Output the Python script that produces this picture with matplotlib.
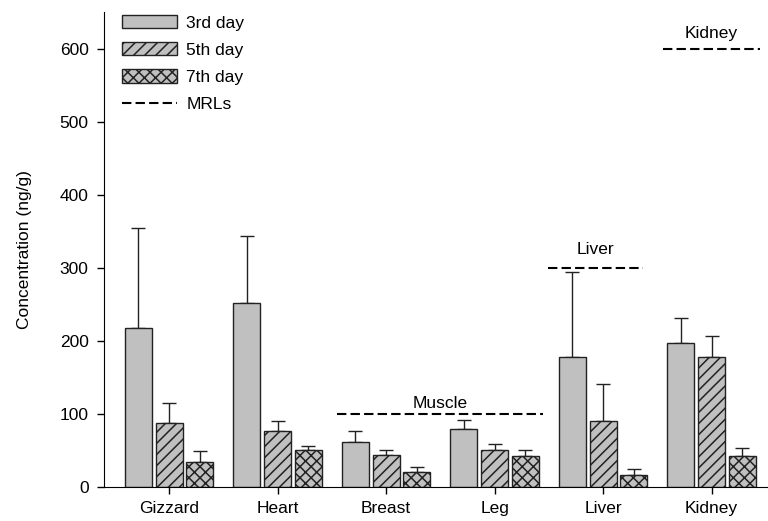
import matplotlib
matplotlib.use('Agg')
import matplotlib.pyplot as plt
import numpy as np

plt.rcParams['font.family'] = ['Liberation Sans', 'DejaVu Sans']
plt.rcParams['hatch.linewidth'] = 1.1

# data
tissues = ['Gizzard', 'Heart', 'Breast', 'Leg', 'Liver', 'Kidney']
days = ['3rd day', '5th day', '7th day']
mean_d3 = [217, 252, 61, 80, 178, 197]
sd_d3 = [138, 92, 16, 11, 116, 34]
mean_d5 = [87, 77, 44, 51, 90, 178]
sd_d5 = [28, 13, 7, 8, 51, 28]
mean_d7 = [34, 50, 21, 42, 16, 43]
sd_d7 = [15, 6, 6, 9, 8, 10]

# maximum residue limits and the tissue groups they cover
mrl_names = ['Muscle', 'Liver', 'Kidney']
mrl_values = [100, 300, 600]
mrl_groups = [(2, 3), (4, 4), (5, 5)]

means = [mean_d3, mean_d5, mean_d7]
sds = [sd_d3, sd_d5, sd_d7]
hatches = ['', '///', 'xxx']
edge = '#222222'
fill = '#c0c0c0'
fs = 12.5

fig = plt.figure(figsize=(7.68, 5.21), dpi=100)
ax = fig.add_axes([0.1354, 0.0653, 0.8646, 0.9117])

x = np.arange(len(tissues))
offsets = [-0.283, 0, 0.283]
width = 0.25
for k in range(3):
    ax.bar(x + offsets[k], means[k], width, color=fill, edgecolor=edge,
           linewidth=1, hatch=hatches[k], label=days[k], zorder=2)
    ax.errorbar(x + offsets[k], means[k],
                yerr=[np.zeros(len(tissues)), sds[k]], fmt='none',
                ecolor=edge, elinewidth=1, capsize=5, capthick=1, zorder=1)

# MRL lines with their labels
label_pad = [14, 25, 20]
for j in range(len(mrl_names)):
    g0, g1 = mrl_groups[j]
    x0 = g0 - 0.45
    x1 = g1 + 0.45
    if mrl_names[j] == 'Liver':
        x0, x1 = x0 - 0.06, x1 - 0.08
    ax.hlines(mrl_values[j], x0, x1, colors='black', linewidth=1.5,
              linestyles=(0, (4.5, 2)), label='MRLs' if j == 0 else None,
              zorder=3)
    ax.text((x0 + x1) / 2, mrl_values[j] + label_pad[j], mrl_names[j],
            ha='center', va='center', fontsize=fs)

ax.set_xlim(-0.6, 5.52)
ax.set_ylim(0, 650)
ax.set_xticks(x)
ax.set_xticklabels(tissues)
ax.set_yticks(np.arange(0, 601, 100))
ax.tick_params(axis='both', direction='out', length=5, width=1, labelsize=fs)
ax.tick_params(axis='x', pad=5)
ax.tick_params(axis='y', pad=6)
ax.spines['top'].set_visible(False)
ax.spines['right'].set_visible(False)
ax.set_ylabel('Concentration (ng/g)', fontsize=fs, labelpad=20)

handles, labels = ax.get_legend_handles_labels()
order = [labels.index(d) for d in days] + [labels.index('MRLs')]
ax.legend([handles[i] for i in order], [labels[i] for i in order],
          loc='upper left', bbox_to_anchor=(0.027, 0.994), frameon=False,
          fontsize=fs, handlelength=3.2, handleheight=0.8,
          labelspacing=0.67, handletextpad=0.5, borderpad=0, borderaxespad=0)

fig.savefig('out.png', dpi=100)
